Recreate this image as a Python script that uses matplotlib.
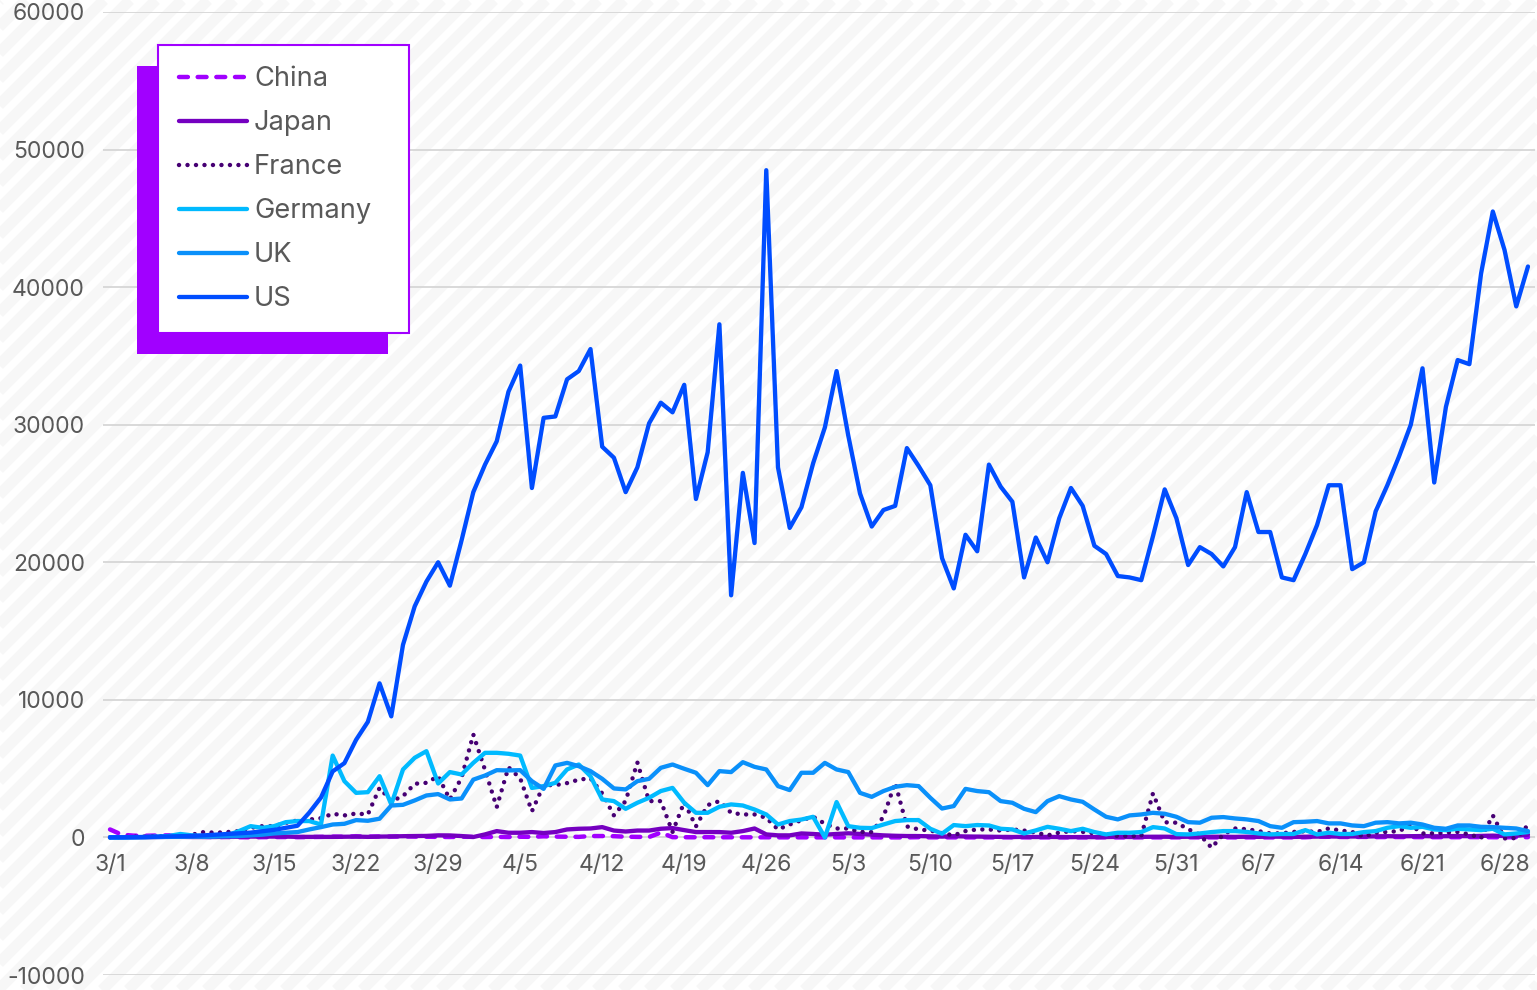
import matplotlib
matplotlib.use("Agg")
import matplotlib.pyplot as plt
import numpy as np
from matplotlib.collections import LineCollection

# Daily new confirmed cases, 1 March - 30 June
china = [580, 200, 130, 120, 140, 150, 100, 45, 45, 20, 30, 15, 10, 20, 25, 30, 20, 30, 40, 60,
         50, 80, 60, 70, 60, 70, 60, 50, 40, 30, 50, 40, 30, 40, 30, 50, 40, 80, 60, 50,
         40, 100, 100, 90, 50, 40, 30, 350, 20, 15, 10, 15, 10, 12, 10, 8, 10, 6, 5, 8,
         6, 5, 4, 3, 2, 3, 2, 2, 3, 17, 5, 7, 4, 4, 5, 4, 6, 8, 6, 5,
         4, 3, 3, 3, 3, 11, 2, 4, 5, 4, 5, 7, 10, 5, 4, 5, 3, 6, 5, 4,
         3, 4, 11, 57, 49, 36, 29, 40, 25, 28, 30, 26, 22, 18, 20, 17, 25, 20, 16, 12, 17, 20]
japan = [15, 10, 15, 20, 30, 40, 40, 30, 30, 30, 50, 50, 60, 60, 60, 60, 40, 40, 40, 40,
         50, 60, 40, 60, 70, 90, 100, 110, 150, 145, 100, 30, 220, 460, 340, 340, 390, 320, 390, 580,
         630, 650, 750, 500, 430, 500, 500, 630, 680, 530, 390, 390, 390, 340, 460, 650, 220, 150, 150, 290,
         250, 200, 250, 300, 250, 200, 150, 120, 100, 100, 80, 60, 90, 70, 60, 50, 40, 30, 40, 30,
         40, 30, 20, 30, 20, 30, 40, 30, 40, 50, 50, 40, 50, 40, 50, 50, 40, 50, 40, 60,
         50, 40, 50, 60, 70, 60, 70, 60, 80, 90, 80, 90, 100, 80, 90, 100, 90, 110, 130, 100, 120, 200]
france = [0, 30, 50, 60, 80, 100, 100, 200, 390, 340, 390, 460, 700, 820, 820, 1060, 1230, 1300, 1400, 1720,
          1600, 1740, 1670, 3600, 2640, 3000, 3900, 3970, 4450, 2760, 4350, 7480, 4900, 2200, 5100, 4300, 1900, 3800, 3800, 3950,
          4200, 4300, 3200, 1600, 2650, 5450, 2640, 2640, 400, 2570, 800, 2350, 2640, 1790, 1670, 1670, 1430, 580, 940, 1250,
          1500, 1000, 650, 650, 400, 390, 1500, 3970, 800, 580, 500, 300, 150, 460, 580, 580, 500, 580, 500, 350,
          150, 350, 460, 400, 300, 250, 100, 100, 100, 3200, 1100, 1070, 600, 200, -750, 220, 650, 600, 460, 290,
          300, 400, 450, 400, 650, 500, 400, 50, 350, 400, 460, 900, 290, 300, 350, 400, 220, -50, 1600, -70, -50, 900]
germany = [0, 0, 20, 30, 50, 100, 250, 150, 100, 100, 150, 460, 820, 700, 820, 1110, 1190, 1190, 940, 5950,
           4090, 3240, 3290, 4450, 2400, 4940, 5790, 6270, 3920, 4750, 4575, 5420, 6150, 6150, 6080, 5950, 3600, 3730, 3970, 4940,
           5300, 4450, 2760, 2640, 2080, 2520, 2880, 3370, 3600, 2520, 1790, 1790, 2230, 2400, 2320, 2030, 1670, 940, 1190, 1300,
           1500, 0, 2570, 820, 700, 680, 940, 1190, 1260, 1260, 630, 270, 900, 820, 900, 870, 630, 580, 290, 510,
           770, 630, 460, 630, 390, 220, 340, 340, 390, 750, 650, 240, 220, 290, 390, 460, 460, 400, 290, 220,
           250, 250, 530, 220, 340, 250, 250, 390, 460, 700, 820, 700, 770, 580, 530, 630, 580, 530, 630, 220, 290, 390]
uk = [0, 0, 10, 20, 30, 40, 50, 60, 50, 70, 80, 100, 150, 200, 290, 340, 390, 580, 750, 940,
      990, 1260, 1210, 1360, 2320, 2370, 2690, 3050, 3150, 2760, 2830, 4200, 4500, 4890, 4870, 4890, 4090, 3530, 5230, 5420,
      5180, 4820, 4260, 3560, 3490, 4090, 4260, 5060, 5300, 4990, 4700, 3800, 4820, 4750, 5470, 5130, 4940, 3730, 3440, 4700,
      4700, 5420, 4940, 4750, 3240, 2950, 3370, 3680, 3800, 3730, 2880, 2100, 2280, 3530, 3370, 3290, 2640, 2520, 2080, 1840,
      2640, 3000, 2760, 2590, 2030, 1500, 1310, 1600, 1670, 1790, 1720, 1500, 1110, 1070, 1430, 1480, 1380, 1310, 1190, 820,
      700, 1110, 1140, 1190, 1020, 1020, 870, 820, 1070, 1110, 1020, 1070, 940, 700, 630, 870, 870, 770, 750, 700, 650, 460]
us = [5, 10, 20, 30, 50, 70, 90, 110, 150, 200, 250, 300, 350, 450, 550, 700, 850, 1800, 2900, 4800,
      5400, 7100, 8400, 11200, 8800, 14000, 16800, 18600, 20000, 18300, 21600, 25100, 27100, 28800, 32400, 34300, 25400, 30500, 30600, 33300,
      33900, 35500, 28400, 27600, 25100, 26900, 30100, 31600, 30900, 32900, 24600, 28000, 37300, 17600, 26500, 21400, 48500, 26900, 22500, 24000,
      27200, 29800, 33900, 29200, 25000, 22600, 23800, 24100, 28300, 27000, 25600, 20300, 18100, 22000, 20800, 27100, 25500, 24400, 18900, 21800,
      20000, 23200, 25400, 24100, 21200, 20600, 19000, 18900, 18700, 21900, 25300, 23200, 19800, 21100, 20600, 19700, 21100, 25100, 22200, 22200,
      18900, 18700, 20600, 22700, 25600, 25600, 19500, 20000, 23700, 25600, 27700, 30000, 34100, 25800, 31300, 34700, 34400, 41000, 45500, 42700, 38600, 41500]

tick_labels = ["3/1", "3/8", "3/15", "3/22", "3/29", "4/5", "4/12", "4/19",
               "4/26", "5/3", "5/10", "5/17", "5/24", "5/31", "6/7", "6/14", "6/21", "6/28"]
y_ticks = [-10000, 0, 10000, 20000, 30000, 40000, 50000, 60000]

plt.rcParams["font.family"] = ["Inter", "DejaVu Sans"]
TEXT = "#595959"

W, H = 1537, 990
fig = plt.figure(figsize=(W / 100, H / 100), dpi=100)
fig.patch.set_facecolor("white")

# faint diagonal stripe texture behind everything
bg = fig.add_axes([0, 0, 1, 1], zorder=-10)
bg.set_xlim(0, W)
bg.set_ylim(0, H)
bg.axis("off")
segs = [[(c, 0), (c + H, H)] for c in np.arange(-H, W + 30, 26)]
bg.add_collection(LineCollection(segs, colors="#f7f7f7", linewidths=8))

ax = fig.add_axes([103 / W, (H - 975) / H, (1535 - 103) / W, (975 - 12) / H])
ax.set_facecolor("none")

x = np.arange(len(us))
series = [
    ("China", china, dict(color="#A100FF", lw=3.2, ls=(0, (2.0, 2.2)), dash_capstyle="round")),
    ("Japan", japan, dict(color="#7500C0", lw=3.1, solid_capstyle="round")),
    ("France", france, dict(color="#460073", lw=3.2, ls=(0, (0.01, 1.9)), dash_capstyle="round")),
    ("Germany", germany, dict(color="#00BAFF", lw=3.1, solid_capstyle="round")),
    ("UK", uk, dict(color="#0A90FA", lw=3.1, solid_capstyle="round")),
    ("US", us, dict(color="#004DFF", lw=3.1, solid_capstyle="round")),
]
for name, vals, style in series:
    ax.plot(x, vals, label=name, solid_joinstyle="round", **style)

ax.set_xlim(-0.6, 121.6)
ax.set_ylim(-10000, 60000)
ax.set_yticks(y_ticks)
ax.set_yticklabels([str(v) for v in y_ticks])
ax.set_xticks(np.arange(0, 7 * len(tick_labels), 7))
ax.set_xticklabels(tick_labels)
ax.grid(axis="y", color="#d9d9d9", lw=1.4)
ax.set_axisbelow(True)
for s in ["top", "right", "left"]:
    ax.spines[s].set_visible(False)
ax.spines["bottom"].set_position(("data", 0))
ax.spines["bottom"].set_color("none")
ax.tick_params(axis="both", length=0, labelsize=16.5, labelcolor=TEXT)
ax.tick_params(axis="y", pad=13)
ax.tick_params(axis="x", pad=12)

leg = ax.legend(loc="upper left",
                bbox_to_anchor=(158 / W, 1 - 327 / H, 251 / W, 282 / H),
                bbox_transform=fig.transFigure, mode="expand",
                borderaxespad=0, fontsize=19.6, frameon=True, fancybox=False,
                framealpha=1, edgecolor="#A100FF", facecolor="white",
                handlelength=2.5, handletextpad=0.25, labelspacing=0.66,
                borderpad=0.78,
                shadow={"ox": -15, "oy": -15, "facecolor": "#A100FF",
                        "edgecolor": "none", "alpha": 1})
leg.get_frame().set_linewidth(1.5)
for t in leg.get_texts():
    t.set_color(TEXT)

fig.savefig("out.png", dpi=100)
